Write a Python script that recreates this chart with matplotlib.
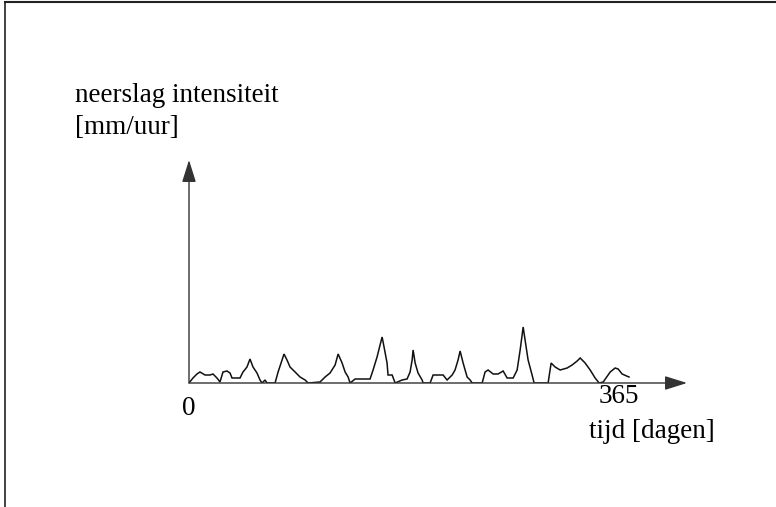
import matplotlib
matplotlib.use("Agg")
import matplotlib.pyplot as plt
from matplotlib.lines import Line2D

plt.rcParams.update({
    "font.family": ["Liberation Serif", "DejaVu Serif"],
    "font.size": 19.5,
})

# rainfall trace: day of year, intensity (arbitrary mm/uur)
days = [0, 3.3, 6.6, 9.1, 13.3, 17.4, 19.9, 23.2, 25.7, 28.2, 31.5, 34.0, 35.7,
        42.3, 44.8, 48.1, 50.6, 53.1, 56.4, 58.9, 60.6, 63.1, 64.7, 71.4, 73.9,
        77.2, 78.8, 81.3, 83.8, 88.0, 92.1, 96.3, 98.8, 108.7, 112.9, 117.0,
        121.2, 123.7, 127.0, 129.5, 132.0, 133.6, 137.8, 150.2, 152.7, 156.0,
        158.5, 160.2, 161.8, 164.3, 165.1, 168.5, 171.0, 176.8, 180.9, 183.4,
        185.1, 185.9, 187.6, 190.0, 193.4, 194.2, 200.0, 202.5, 210.8, 214.1,
        218.3, 220.7, 223.2, 224.9, 227.4, 230.7, 233.2, 234.9, 243.2, 245.6,
        248.1, 252.3, 256.4, 260.6, 263.9, 268.9, 272.2, 274.7, 277.2, 278.8,
        281.3, 284.6, 286.3, 297.9, 300.4, 303.7, 307.9, 313.7, 317.8, 322.0,
        324.5, 328.6, 332.8, 336.9, 340.2, 343.6, 349.4, 353.5, 356.0, 359.3,
        363.0, 365.0]
rain = [0, 0.5, 0.9, 1.1, 0.8, 0.8, 0.9, 0.5, 0.1, 1.1, 1.2, 1.0, 0.5,
        0.5, 1.1, 1.6, 2.4, 1.6, 1.0, 0.3, 0, 0.3, 0, 0, 1.1,
        2.3, 2.9, 2.3, 1.6, 1.1, 0.6, 0.3, 0, 0.1, 0.6, 1.0,
        1.8, 2.9, 2.0, 1.1, 0.6, 0, 0.4, 0.4, 1.3, 2.6,
        3.8, 4.6, 3.6, 2.0, 0.8, 0.8, 0, 0.3, 0.4, 1.1,
        2.3, 3.3, 2.0, 1.0, 0.3, 0, 0, 0.8, 0.8, 0.3,
        0.8, 1.3, 2.3, 3.2, 2.0, 0.6, 0.3, 0, 0, 1.1,
        1.3, 0.9, 0.9, 1.2, 0.5, 0.5, 1.3, 3.3, 5.6, 4.3,
        2.3, 0.8, 0, 0, 2.0, 1.6, 1.3, 1.5, 1.8, 2.2,
        2.5, 2.0, 1.3, 0.5, 0, 0.1, 1.1, 1.5, 1.4, 0.9,
        0.7, 0.6]

W, H = 776, 507
fig = plt.figure(figsize=(W / 100, H / 100), dpi=100)

# frame of the scanned sketch (top and left edge only)
fig.add_artist(Line2D([5 / W, 1], [1 - 2 / H, 1 - 2 / H], color="#222", lw=1.5))
fig.add_artist(Line2D([5 / W, 5 / W], [0, 1 - 2 / H], color="#222", lw=1.2))

x0, y0 = 189, 383          # origin in pixels
xend, ytop = 687, 160      # arrow tips
ax = fig.add_axes([x0 / W, 1 - y0 / H, (xend - x0) / W, (y0 - ytop) / H])
ax.set_xlim(0, 365 * (xend - x0) / (629 - x0))
ax.set_ylim(0, (y0 - ytop) / 10)
ax.axis("off")

ax.plot(days, rain, color="#111", lw=1.1, solid_joinstyle="miter")

arrow = dict(arrowstyle="-|>,head_length=0.7,head_width=0.22", color="#333",
             lw=1.0, shrinkA=0, shrinkB=0)
ax.annotate("", (1, 0), (0, 0), xycoords="axes fraction", arrowprops=arrow)
ax.annotate("", (0, 1), (0, 0), xycoords="axes fraction", arrowprops=arrow)

ax.text(0, -0.06, "0", transform=ax.get_xaxis_transform(), ha="center", va="top")
ax.text(357, -0.005, "365", transform=ax.get_xaxis_transform(), ha="center", va="top")

fig.text(652 / W, 1 - 432 / H, "tijd [dagen]", ha="center", va="center")
fig.text(75 / W, 1 - 96 / H, "neerslag intensiteit", ha="left", va="center")
fig.text(75 / W, 1 - 128 / H, "[mm/uur]", ha="left", va="center")

fig.savefig("out.png", dpi=100)
